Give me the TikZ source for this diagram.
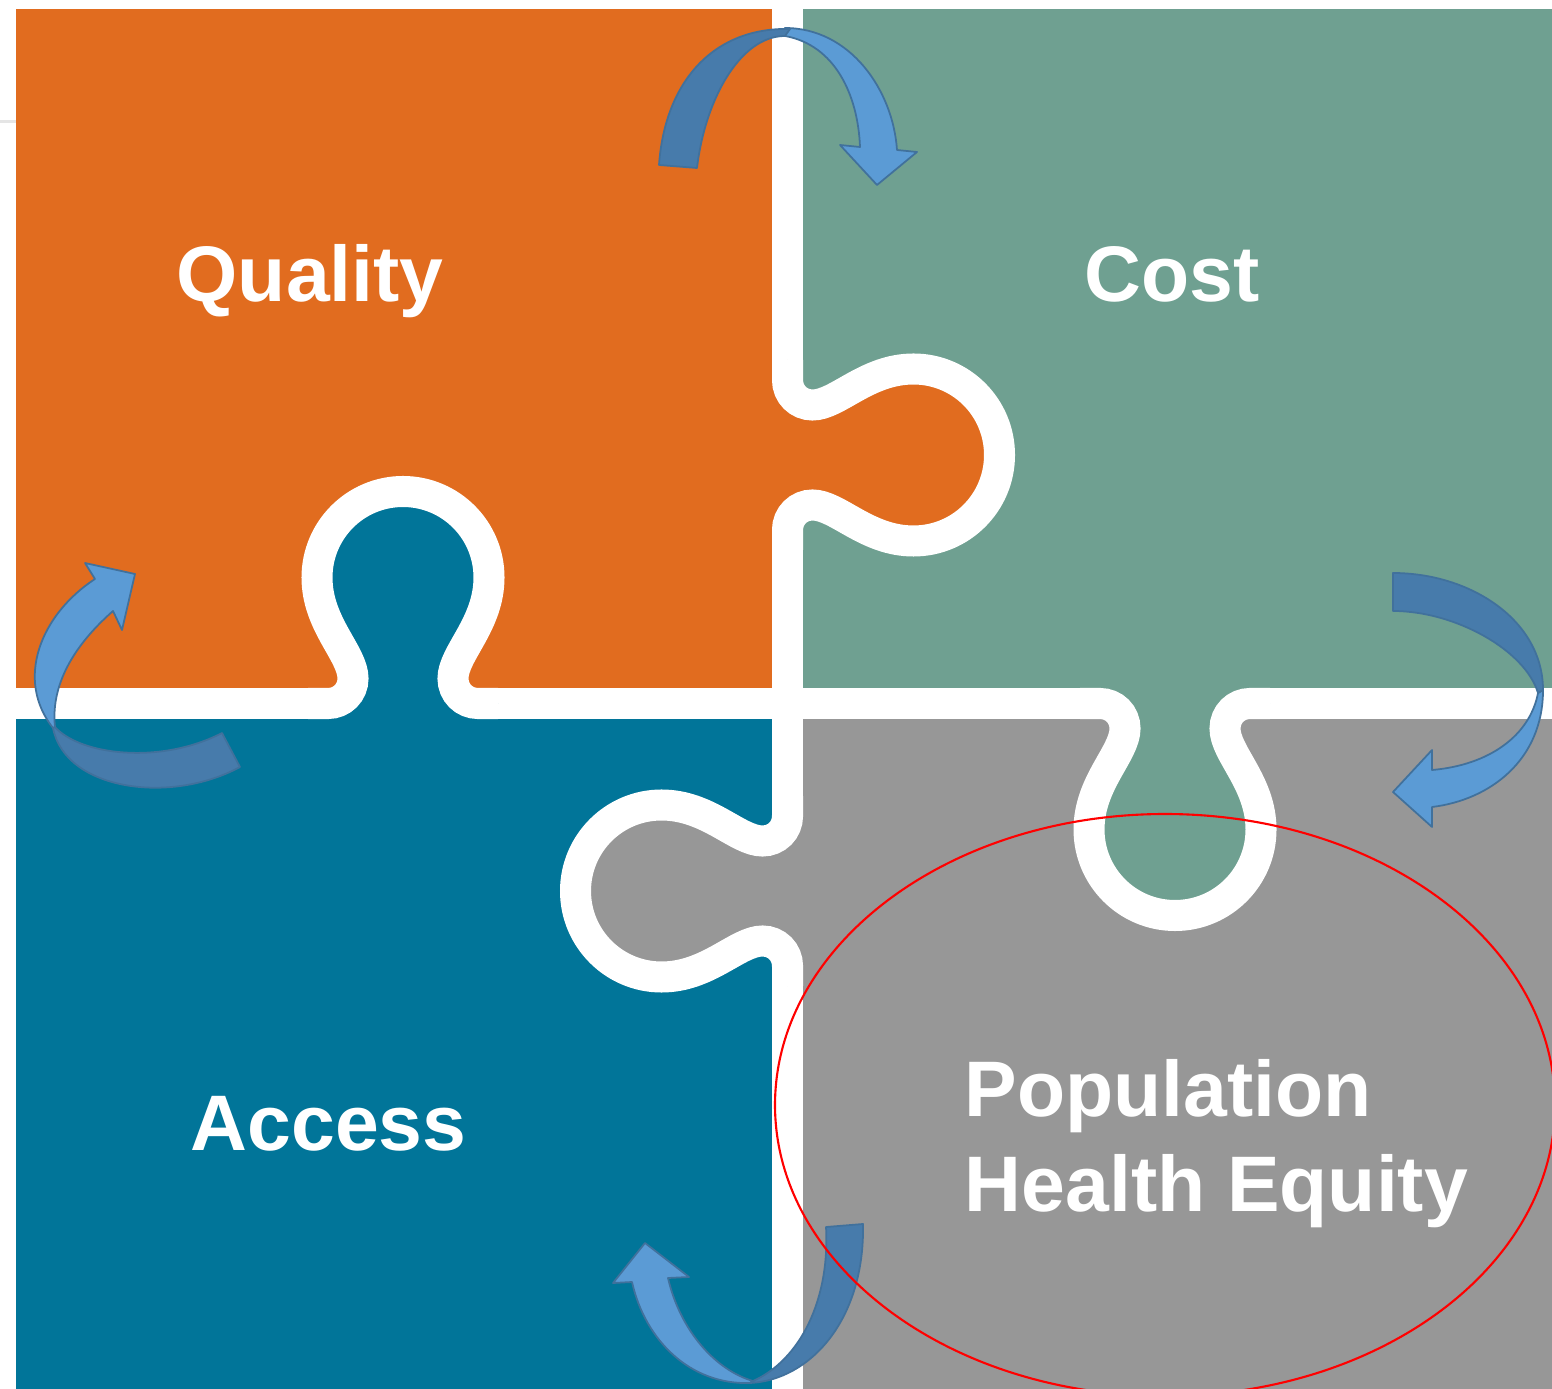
\documentclass[tikz,border=0pt]{standalone}
\usepackage{fontspec}
\setmainfont{Liberation Sans}

\definecolor{qualityorange}{RGB}{225,108,31}
\definecolor{costgreen}{RGB}{111,160,145}
\definecolor{accessblue}{RGB}{1,117,153}
\definecolor{equitygray}{RGB}{151,151,151}
\definecolor{arrowlight}{RGB}{91,155,213}
\definecolor{arrowdark}{RGB}{71,123,171}
\definecolor{arrowedge}{RGB}{65,113,156}

% one puzzle tab, base on the cut line, pointing along +x
\newcommand{\tabcut}{(0,-95) -- (0,-75) .. controls (0,-61) and (11,-50) .. (25,-50)
  .. controls (50,-50) and (79,-86) .. (126,-86)
  arc[start angle=-90, end angle=90, radius=86]
  .. controls (79,86) and (50,50) .. (25,50)
  .. controls (11,50) and (0,61) .. (0,75) -- (0,95)}

\begin{document}
\begin{tikzpicture}[x=0.01cm, y=-0.01cm,
  cutline/.style={white, line width=0.31cm},
  piecelabel/.style={text=white, inner sep=0pt, anchor=base west,
    font=\fontsize{22.4}{27}\selectfont\bfseries},
  arrowfront/.style={fill=arrowlight, draw=arrowedge, line width=0.5pt, line join=round},
  arrowback/.style={fill=arrowdark, draw=arrowedge, line width=0.5pt, line join=round}]

\useasboundingbox[fill=white] (0,0) rectangle (1552,1389);

\begin{scope}
\clip (0,0) rectangle (1552,1389);

\draw[gray!20, line width=0.03cm] (0,122) -- (16,122);

% the four pieces
\fill[qualityorange] (16,9) rectangle (787.5,703.5);
\fill[costgreen] (787.5,9) rectangle (1552,703.5);
\fill[accessblue] (16,703.5) rectangle (787.5,1389);
\fill[equitygray] (787.5,703.5) rectangle (1552,1389);

\draw[cutline] (787.5,9) -- (787.5,1389);
\draw[cutline] (16,703.5) -- (1552,703.5);

% tabs
\begin{scope}[shift={(787.5,455)}]
\fill[qualityorange] \tabcut -- (-20,80) -- (-20,-80) -- cycle;
\draw[cutline] \tabcut;
\end{scope}

\begin{scope}[shift={(403,703.5)}, rotate=90]
\fill[accessblue] \tabcut -- (-20,80) -- (-20,-80) -- cycle;
\draw[cutline] \tabcut;
\end{scope}

\begin{scope}[shift={(787.5,891)}, rotate=180]
\fill[equitygray] \tabcut -- (-20,80) -- (-20,-80) -- cycle;
\draw[cutline] \tabcut;
\end{scope}

\begin{scope}[shift={(1175,703.5)}, rotate=-90]
\fill[costgreen] \tabcut -- (-20,80) -- (-20,-80) -- cycle;
\draw[cutline] \tabcut;
\end{scope}

% labels
\node[piecelabel] (quality) at (176,302) {Quality};
\node[piecelabel] (cost) at (1084,302) {Cost};
\node[piecelabel] (access) at (190,1150) {Access};
\node[piecelabel] (population) at (964,1116) {Population};
\node[piecelabel] (equity) at (964,1211) {Health Equity};

% curved arrows
\draw[arrowfront] (785,28) .. controls (850,28) and (893,90) .. (897,150) -- (917,152) -- (877,185) -- (840,145) -- (860,147) .. controls (858,95) and (835,45) .. (785,36) -- cycle;
\draw[arrowback] (659,165) .. controls (665,80) and (715,27) .. (790,29) -- (785,36) .. controls (740,36) and (705,100) .. (697,168) -- cycle;

\draw[arrowfront] (95,579) .. controls (40,615) and (15,680) .. (53,728) -- (55,727) .. controls (50,680) and (80,640) .. (113,611) -- (122,630) -- (135,574) -- (85,563) -- cycle;
\draw[arrowback] (53,728) .. controls (65,790) and (170,805) .. (240,767) -- (222,733) .. controls (160,765) and (80,755) .. (55,727) -- cycle;

\draw[arrowfront] (1543,690) .. controls (1543,760) and (1490,800) .. (1432,807) -- (1432,827) -- (1393,792) -- (1432,750) -- (1432,770) .. controls (1490,765) and (1530,735) .. (1538,693) -- cycle;
\draw[arrowback] (1393,573) .. controls (1470,573) and (1543,620) .. (1543,690) -- (1538,693) .. controls (1525,650) and (1455,611) .. (1393,611) -- cycle;

\draw[arrowfront] (750,1383) .. controls (690,1385) and (645,1340) .. (632,1282) -- (613,1283) -- (645,1243) -- (689,1277) -- (668,1278) .. controls (680,1330) and (715,1370) .. (753,1381) -- cycle;
\draw[arrowback] (826,1227) -- (863,1224) .. controls (865,1320) and (810,1380) .. (750,1383) -- (753,1381) .. controls (800,1360) and (830,1300) .. (826,1227) -- cycle;

% marked piece
\draw[red, line width=0.6pt] (1165,1105) ellipse [x radius=390, y radius=291];

\end{scope}
\end{tikzpicture}
\end{document}
